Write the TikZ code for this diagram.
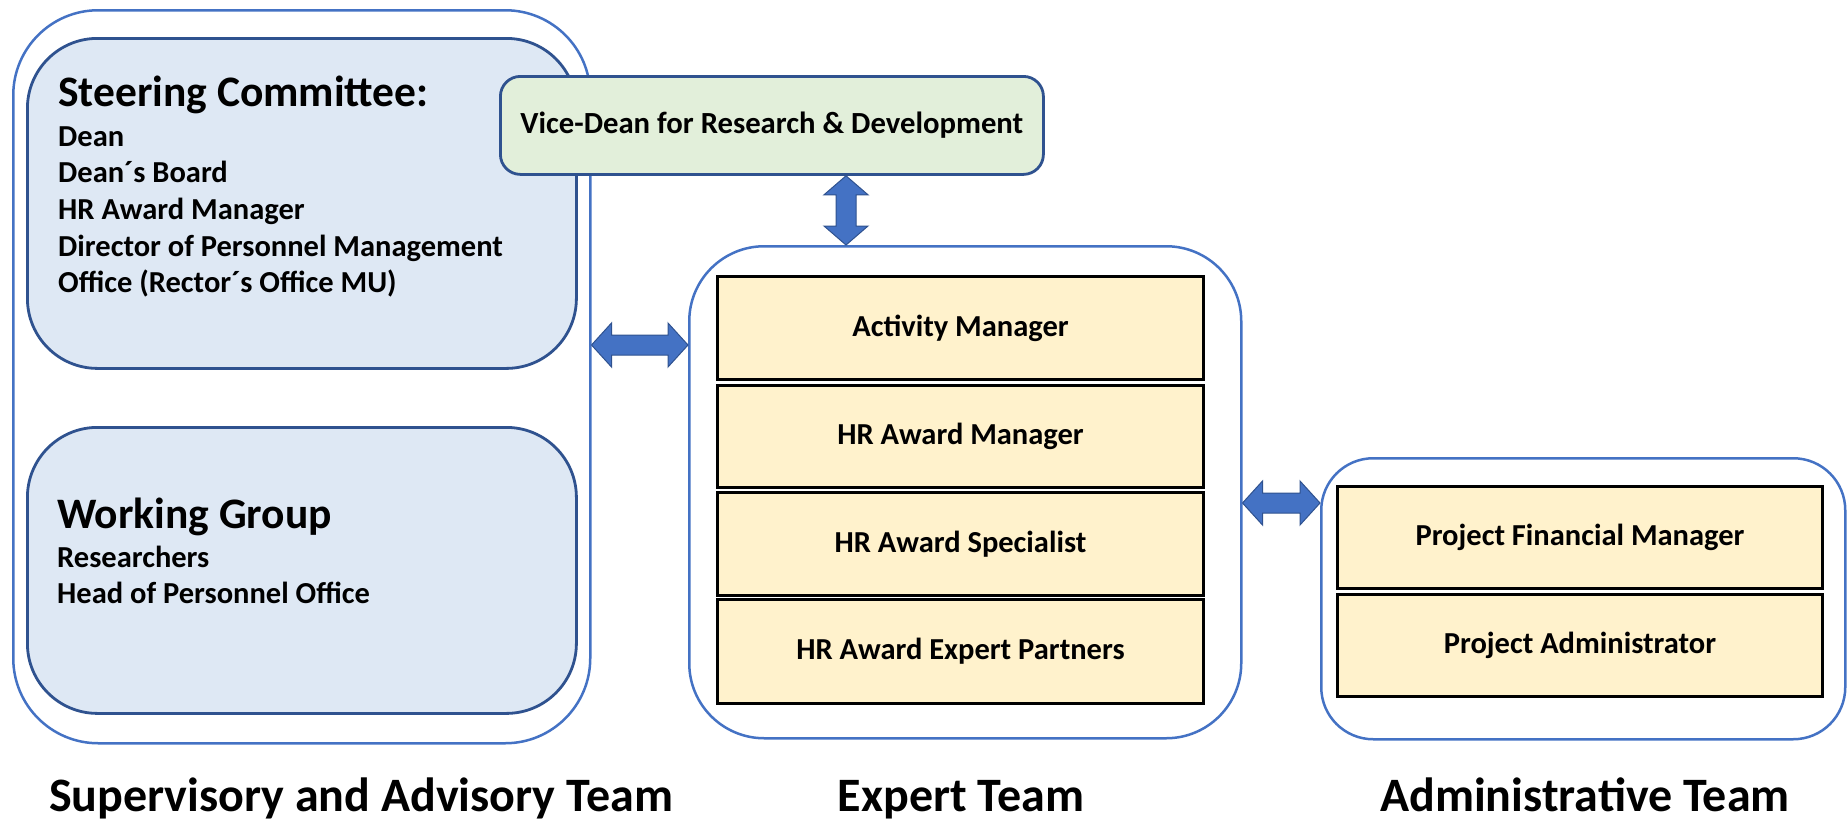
\documentclass[tikz,border=0pt]{standalone}
\usepackage{fontspec}
\setmainfont{Carlito}
\usetikzlibrary{calc}
\definecolor{outerblue}{HTML}{4472C4}
\definecolor{darkblue}{HTML}{2F528F}
\definecolor{lightblue}{HTML}{DEE8F4}
\definecolor{lightgreen}{HTML}{E2EFDA}
\definecolor{paleyellow}{HTML}{FFF2CC}
\newcommand{\fs}[1]{\fontsize{#1}{#1}\selectfont\bfseries}
\newcommand{\hdarrow}[2]{%
  \path[blockarrow] let \p1=(#1), \p2=(#2) in
   (\x1,\y1) -- (\x1+20pt,\y1+22pt) -- (\x1+20pt,\y1+10pt) -- (\x2-20pt,\y1+10pt)
   -- (\x2-20pt,\y1+22pt) -- (\x2,\y1) -- (\x2-20pt,\y1-22pt) -- (\x2-20pt,\y1-10pt)
   -- (\x1+20pt,\y1-10pt) -- (\x1+20pt,\y1-22pt) -- cycle;}
\newcommand{\vdarrow}[2]{%
  \path[blockarrow] let \p1=(#1), \p2=(#2) in
   (\x1,\y1) -- (\x1+22pt,\y1-19pt) -- (\x1+10pt,\y1-19pt) -- (\x1+10pt,\y2+19pt)
   -- (\x1+22pt,\y2+19pt) -- (\x1,\y2) -- (\x1-22pt,\y2+19pt) -- (\x1-10pt,\y2+19pt)
   -- (\x1-10pt,\y1-19pt) -- (\x1-22pt,\y1-19pt) -- cycle;}
\tikzset{
  teambox/.style={draw=outerblue, line width=2.5pt, fill=white, rounded corners=#1, inner sep=0pt, anchor=north west},
  bluebox/.style={draw=darkblue, line width=2.8pt, fill=lightblue, rounded corners=70pt, inner sep=0pt, anchor=north west},
  greenbox/.style={draw=darkblue, line width=2.8pt, fill=lightgreen, rounded corners=20pt, inner sep=0pt, anchor=north west, font=\fs{30.7}},
  rolebox/.style={draw=black, line width=3pt, fill=paleyellow, inner sep=0pt, anchor=north west, font=\fs{30.5}},
  listtext/.style={anchor=base west, inner sep=0pt, font=\fs{30.5}},
  headtext/.style={anchor=base west, inner sep=0pt, font=\fs{43.5}},
  titletext/.style={anchor=base, inner sep=0pt, font=\fs{48}},
  blockarrow/.style={fill=outerblue, draw=darkblue, line width=1pt, line join=miter}
}
\begin{document}
\begin{tikzpicture}[x=1pt, y=-1pt]
\useasboundingbox (0,0) rectangle (1847,819);
% Supervisory and Advisory Team
\node[teambox=85pt, minimum width=577pt, minimum height=733pt] (sat) at (12,9) {};
\node[bluebox, minimum width=549pt, minimum height=330pt] (sc) at (26,37) {};
\node[bluebox, minimum width=549pt, minimum height=286pt] (wg) at (26,426) {};
\node[headtext] (sc0) at (58,106) {Steering Committee:};
\node[listtext] (sc1) at (58,146) {Dean};
\node[listtext] (sc2) at (58,182) {Dean´s Board};
\node[listtext] (sc3) at (58,219) {HR Award Manager};
\node[listtext] (sc4) at (58,256) {Director of Personnel Management};
\node[listtext] (sc5) at (58,292) {Office (Rector´s Office MU)};
\node[headtext] (wg0) at (57,528) {Working Group};
\node[listtext] (wg1) at (57,567) {Researchers};
\node[listtext] (wg2) at (57,603) {Head of Personnel Office};
% Vice-Dean
\node[greenbox, minimum width=543pt, minimum height=98pt] (vd) at (499,75) {Vice-Dean for Research \& Development};
% Expert Team
\node[teambox=75pt, minimum width=552pt, minimum height=492pt] (et) at (688,245) {};
\node[rolebox, minimum width=486pt, minimum height=103pt] (am) at (716,275) {Activity Manager};
\node[rolebox, minimum width=486pt, minimum height=102pt] (hm) at (716,384) {HR Award Manager};
\node[rolebox, minimum width=486pt, minimum height=103pt] (hs) at (716,491) {HR Award Specialist};
\node[rolebox, minimum width=486pt, minimum height=104pt] (hp) at (716,598) {HR Award Expert Partners};
% Administrative Team
\node[teambox=52pt, minimum width=524pt, minimum height=281pt] (at) at (1320,457) {};
\node[rolebox, minimum width=485pt, minimum height=102pt] (pf) at (1336,485) {Project Financial Manager};
\node[rolebox, minimum width=485pt, minimum height=102pt] (pa) at (1336,593) {Project Administrator};
% Arrows
\coordinate (y345) at (0,345);
\coordinate (y503) at (0,503);
\coordinate (x846) at (846,0);
\coordinate (h1a) at (sat.east |- y345);
\coordinate (h1b) at (et.west |- y345);
\coordinate (h2a) at (et.east |- y503);
\coordinate (h2b) at (at.west |- y503);
\coordinate (v1a) at (x846 |- vd.south);
\coordinate (v1b) at (x846 |- et.north);
\hdarrow{h1a}{h1b}
\hdarrow{h2a}{h2b}
\vdarrow{v1a}{v1b}
% Titles
\node[titletext] (t1) at (361,811) {Supervisory and Advisory Team};
\node[titletext] (t2) at (961,811) {Expert Team};
\node[titletext] (t3) at (1585,811) {Administrative Team};
\end{tikzpicture}
\end{document}
